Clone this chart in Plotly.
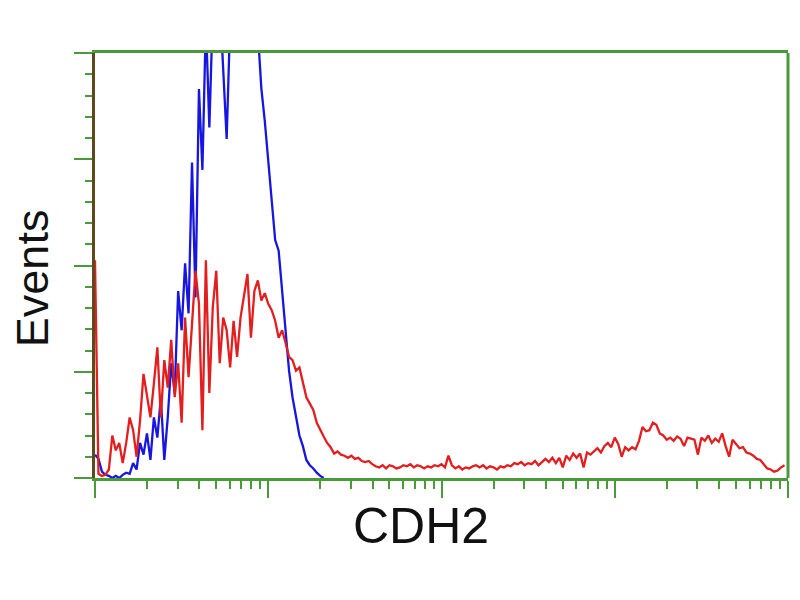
import plotly.graph_objects as go

# Histogram channel counts (200 channels over 4 log decades)
N_CHANNELS = 200
DECADES = 4

control_counts = [
    22, 18, 6, 3, 2, 0, 2, 0, 3, 5,
    4, 14, 8, 33, 22, 42, 17, 57, 38, 76,
    17, 57, 108, 80, 176, 139, 202, 155, 297, 170,
    366, 290, 430, 330, 440, 420, 450, 390, 319, 430,
    470, 480, 500, 490, 510, 480, 460, 420, 367, 336,
    301, 264, 224, 214, 176, 145, 101, 76, 57, 40,
    30, 17, 12, 9, 5, 2, 0,
]

cdh2_counts = [
    205, 4, 2, 3, 8, 40, 26, 33, 14, 33,
    57, 45, 20, 54, 98, 76, 57, 89, 123, 57,
    111, 85, 130, 76, 108, 52, 151, 95, 148, 195,
    164, 45, 205, 80, 161, 195, 108, 151, 139, 104,
    148, 114, 151, 170, 192, 132, 176, 186, 167, 174,
    164, 158, 148, 132, 139, 127, 114, 111, 101, 104,
    90, 76, 70, 64, 52, 45, 39, 33, 29, 23,
    25, 22, 21, 19, 21, 18, 19, 16, 15, 16,
    13, 11, 10, 12, 9, 12, 11, 9, 10, 12,
    11, 13, 10, 12, 11, 9, 11, 10, 12, 11,
    13, 10, 21, 12, 9, 11, 8, 10, 9, 11,
    12, 10, 12, 9, 11, 10, 8, 11, 10, 12,
    11, 14, 13, 15, 12, 14, 13, 16, 12, 15,
    18, 15, 19, 14, 19, 10, 21, 17, 23, 19,
    23, 10, 24, 22, 25, 28, 24, 30, 33, 29,
    38, 32, 20, 29, 26, 29, 27, 35, 48, 44,
    45, 52, 50, 42, 40, 36, 38, 35, 39, 37,
    30, 38, 37, 36, 22, 38, 35, 40, 33, 37,
    34, 42, 30, 20, 36, 32, 28, 29, 24, 23,
    21, 18, 17, 13, 9, 8, 6, 7, 10, 12,
]

x_title = "CDH2"
y_title = "Events"

GREEN = "#4a9a3c"
BROWN = "#5c4a1c"


def channel_to_fl(n):
    return [10 ** (i * DECADES / N_CHANNELS) for i in range(n)]


fig = go.Figure()
fig.add_trace(go.Scatter(
    x=channel_to_fl(len(control_counts)), y=control_counts,
    mode="lines", line=dict(color="#1616de", width=2.3, shape="linear"),
    showlegend=False, hoverinfo="skip", cliponaxis=True,
))
fig.add_trace(go.Scatter(
    x=channel_to_fl(len(cdh2_counts)), y=cdh2_counts,
    mode="lines", line=dict(color="#e21e1e", width=2.3, shape="linear"),
    showlegend=False, hoverinfo="skip", cliponaxis=True,
))

fig.update_layout(
    width=784, height=584,
    margin=dict(l=87, r=4, t=45, b=114, autoexpand=False),
    paper_bgcolor="white", plot_bgcolor="white",
    font=dict(family="Liberation Sans, Arial, sans-serif", color="#111111"),
    xaxis=dict(
        type="log", range=[0, DECADES], dtick=1,
        showgrid=False, zeroline=False, showticklabels=False,
        showline=True, mirror=True, linecolor=GREEN, linewidth=3,
        ticks="outside", ticklen=17, tickwidth=2, tickcolor=GREEN,
        minor=dict(dtick="D1", ticks="outside", ticklen=8, tickwidth=2,
                   tickcolor=GREEN, showgrid=False),
    ),
    yaxis=dict(
        range=[0, 400], dtick=100,
        showgrid=False, zeroline=False, showticklabels=False,
        showline=True, mirror=False, linecolor=BROWN, linewidth=3,
        ticks="outside", ticklen=18, tickwidth=2, tickcolor=GREEN,
        minor=dict(dtick=20, ticks="outside", ticklen=7, tickwidth=2,
                   tickcolor=GREEN, showgrid=False),
    ),
    shapes=[dict(type="line", xref="paper", yref="paper", x0=1, x1=1, y0=0, y1=1,
                 line=dict(color=GREEN, width=3), layer="above")],
    annotations=[
        dict(text=x_title, xref="paper", yref="paper", x=0.470, y=-0.113,
             xanchor="center", yanchor="middle", showarrow=False,
             font=dict(size=50, color="#111111")),
        dict(text=y_title, xref="paper", yref="paper", x=-0.091, y=0.47,
             xanchor="center", yanchor="middle", showarrow=False, textangle=-90,
             borderpad=0, font=dict(size=45, color="#111111")),
    ],
)

fig.write_html("out.html")
